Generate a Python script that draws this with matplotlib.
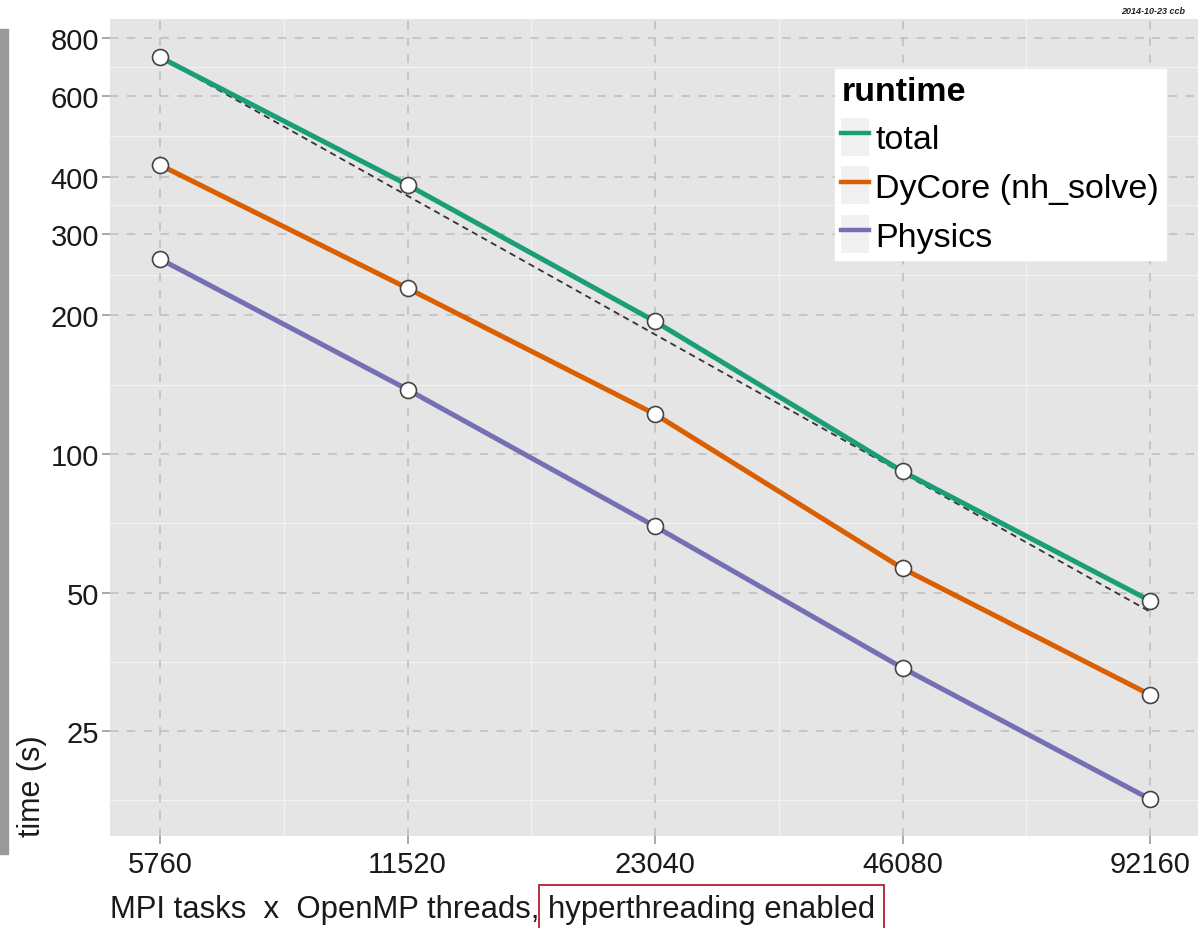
import numpy as np
import matplotlib.pyplot as plt
from matplotlib.patches import Rectangle, Patch
from matplotlib.legend_handler import HandlerTuple

plt.rcParams['font.family'] = ['Liberation Sans', 'DejaVu Sans']

# data
cores = [5760, 11520, 23040, 46080, 92160]
total = [727, 384, 194, 91.6, 48.0]
dycore = [424, 229, 122, 56.4, 30.0]
physics = [265, 138, 69.6, 34.3, 17.8]
yticks = [25, 50, 100, 200, 300, 400, 600, 800]

green = '#1B9E77'
orange = '#D95F02'
purple = '#7570B3'

fig = plt.figure(figsize=(12.01, 9.29), dpi=100)
ax = fig.add_axes([110/1201, 92/929, 1088/1201, 817/929])
ax.set_facecolor('#E5E5E5')
ax.set_xscale('log')
ax.set_yscale('log')
ax.set_xlim(5007, 105420)
ax.set_ylim(14.8, 880)

# minor grid (white, at geometric midpoints)
for i in range(len(cores) - 1):
    ax.axvline(np.sqrt(cores[i]*cores[i+1]), color='#F2F2F2', lw=0.9, zorder=0.5)
ymin_list = sorted(list(yticks) + [12.5])
for i in range(len(ymin_list) - 1):
    ax.axhline(np.sqrt(ymin_list[i]*ymin_list[i+1]), color='#F2F2F2', lw=0.9, zorder=0.5)

# major grid, dashed
for c in cores:
    ax.axvline(c, color='#BDBDBD', lw=1.1, ls=(0, (5.5, 5.5)), zorder=0.6)
for t in yticks:
    ax.axhline(t, color='#BDBDBD', lw=1.1, ls=(0, (5.5, 5.5)), zorder=0.6)

# ideal scaling line
ideal = [total[0] * cores[0] / c for c in cores]
ax.plot(cores, ideal, color='#333333', lw=1.3, ls=(0, (3.5, 2.5)), zorder=1)

mk = dict(marker='o', markersize=11.5, markerfacecolor='white',
          markeredgecolor='#444444', markeredgewidth=1.2)
ax.plot(cores, total, color=green, lw=3.6, zorder=3, **mk)
ax.plot(cores, dycore, color=orange, lw=3.6, zorder=3, **mk)
ax.plot(cores, physics, color=purple, lw=3.6, zorder=3, **mk)

for s in ax.spines.values():
    s.set_visible(False)

ax.set_xticks(cores)
ax.set_xticklabels([str(c) for c in cores])
ax.set_yticks(yticks)
ax.set_yticklabels([str(t) for t in yticks])
ax.minorticks_off()
ax.tick_params(axis='both', which='major', labelsize=21, colors='#999999',
               labelcolor='#1a1a1a', length=6, width=1.2)
ax.tick_params(axis='y', pad=2)
ax.tick_params(axis='x', pad=4)

# legend, with faint gray key boxes like ggplot
h1, = ax.plot([], [], color=green, lw=3.2)
h2, = ax.plot([], [], color=orange, lw=3.2)
h3, = ax.plot([], [], color=purple, lw=3.2)
key = dict(facecolor='#F1F1F1', edgecolor='none')
leg = ax.legend([(Patch(**key), h1), (Patch(**key), h2), (Patch(**key), h3)],
                ['total', 'DyCore (nh_solve)', 'Physics'],
                handler_map={tuple: HandlerTuple(ndivide=1, pad=0)},
                title='runtime', loc='upper left', bbox_to_anchor=(0.666, 0.939),
                borderaxespad=0, fontsize=24.5, title_fontsize=24.5,
                frameon=True, fancybox=False, framealpha=1, edgecolor='white',
                facecolor='white', handlelength=0.8, handleheight=1.34,
                handletextpad=0.2, labelspacing=0.32, borderpad=0.2,
                alignment='left')
leg.get_title().set_fontweight('bold')

# axis labels
fig.text(32/1201, 92/929, 'time (s)', rotation=90, ha='center', va='bottom',
         fontsize=22, color='#1a1a1a')
fig.text(110/1201, 1 - 910/929, 'MPI tasks  x  OpenMP threads,', ha='left',
         va='center', fontsize=22.4, color='#1a1a1a')
fig.text(548/1201, 1 - 910/929, 'hyperthreading enabled', ha='left', va='center',
         fontsize=22.4, color='#1a1a1a',
         bbox=dict(boxstyle='square,pad=0.3', facecolor='none', edgecolor='#B02030', lw=1.3))

fig.text(1185/1201, 1 - 11/929, '2014-10-23 ccb', ha='right', va='center',
         fontsize=6.5, fontweight='bold', fontstyle='italic', color='#222222')

# gray bar on the left side
fig.patches.append(Rectangle((0, 1 - 855/929), 8/1201, 825/929,
                             transform=fig.transFigure, color='#9A9A9A', zorder=0))

fig.savefig('out.png', dpi=100)
